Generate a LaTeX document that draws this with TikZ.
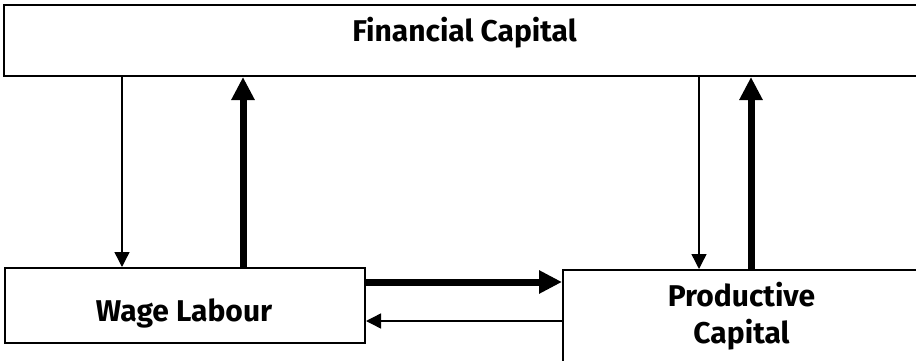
\documentclass[tikz,border=0pt]{standalone}
\usepackage{fontspec}
\setmainfont{Fira Sans}
\usetikzlibrary{arrows.meta}
\begin{document}
\begin{tikzpicture}[x=1pt,y=-1pt,
  box/.style={draw=black,line width=2pt,fill=white,inner sep=0pt},
  lbl/.style={inner sep=0pt,anchor=base,font=\fontsize{30}{37}\selectfont\bfseries,align=center},
  thinarr/.style={line width=1.4pt,-{Triangle[length=15pt,width=15pt]}},
  thickarr/.style={line width=7pt,-{Triangle[length=23pt,width=22pt]}}]
\clip (0,0) rectangle (916,361);
\fill[white] (0,0) rectangle (916,361);
\node[box,minimum width=921pt,minimum height=71pt] (fin) at (464.5,40.5) {};
\node[box,minimum width=360pt,minimum height=75pt] (wl) at (185,305.5) {};
\node[box,minimum width=358pt,minimum height=94pt] (pc) at (742,317) {};
\node[lbl] (fint) at (464.5,42) {Financial Capital};
\node[lbl] (wlt) at (184,321) {Wage Labour};
\node[lbl] (pct) at (741.5,343) {Productive\\Capital};
\path (wl.north west) ++(118,0) coordinate (a1);
\path (wl.north west) ++(239,0) coordinate (a2);
\path (pc.north west) ++(137,0) coordinate (a3);
\path (pc.north west) ++(189,0) coordinate (a4);
\path (wl.north east) ++(0,15) coordinate (h1);
\path (wl.north east) ++(0,54) coordinate (h2);
\draw[thinarr] (a1 |- fin.south) -- (a1);
\draw[thickarr] (a2) -- (a2 |- fin.south);
\draw[thinarr] (a3 |- fin.south) -- (a3);
\draw[thickarr] (a4) -- (a4 |- fin.south);
\draw[thickarr] (h1) -- (h1 -| pc.west);
\draw[thinarr] (h2 -| pc.west) -- (h2);
\end{tikzpicture}
\end{document}
